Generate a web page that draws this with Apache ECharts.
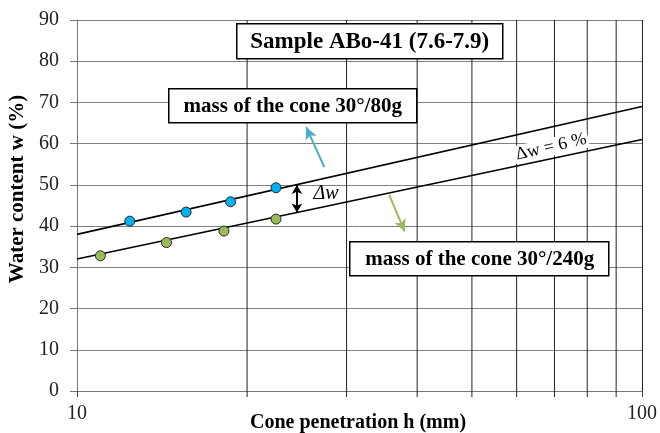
<!DOCTYPE html>
<html>
<head>
<meta charset="utf-8">
<script src="https://cdn.jsdelivr.net/npm/echarts@6/dist/echarts.min.js"></script>
<style>
  html, body { margin: 0; padding: 0; background: #fff; }
  #chart { width: 660px; height: 433px; }
</style>
</head>
<body>
<div id="chart"></div>
<script>
// measured points (cone penetration h in mm, water content w in %)
const h80 = [12.4, 15.6, 18.7, 22.5]
const w80 = [41.2, 43.4, 45.9, 49.3]
const h240 = [11.0, 14.4, 18.2, 22.5]
const w240 = [32.8, 36.0, 38.8, 41.7]

// fitted lines, end points at h = 10 and h = 100
const fitH = [10, 100]
const fit80 = [38, 69]
const fit240 = [32, 61]

// minor log grid lines between 10 and 100
const minorH = [20, 30, 40, 50, 60, 70, 80, 90]

// annotation arrows (data coords)
const deltaArrow = [[24.5, 50.0], [24.5, 43.3]]
const arrow80 = [[27.4, 54.3], [25.45, 64.0]]
const arrow240 = [[35.7, 47.6], [38.0, 38.7]]

const Y_MIN = 0
const Y_MAX = 90
const FONT = '"Liberation Serif", "Times New Roman", serif'

const zip = (a, b) => a.map((v, i) => [v, b[i]])

const chart = echarts.init(document.getElementById('chart'))

const option = {
  animation: false,
  backgroundColor: '#fff',
  grid: { left: 77, right: 17, top: 20, bottom: 42 },
  xAxis: {
    type: 'log',
    logBase: 10,
    min: 10,
    max: 100,
    axisLine: { lineStyle: { color: '#777', width: 1 } },
    axisTick: { show: true, length: 6, lineStyle: { color: '#444' } },
    axisLabel: { color: '#222', fontFamily: FONT, fontSize: 20, margin: 13 },
    splitLine: { show: true, lineStyle: { color: '#222', width: 1 } },
  },
  yAxis: {
    type: 'value',
    min: Y_MIN,
    max: Y_MAX,
    interval: 10,
    axisLine: { show: true, lineStyle: { color: '#777', width: 1 } },
    axisTick: { show: true, length: 7, lineStyle: { color: '#777' } },
    axisLabel: { color: '#222', fontFamily: FONT, fontSize: 20, margin: 18 },
    splitLine: { show: true, lineStyle: { color: '#808080', width: 1 } },
  },
  series: [
    {
      // minor vertical grid lines and ticks
      type: 'custom',
      clip: false,
      silent: true,
      z: 1,
      data: minorH.map(v => [v, Y_MIN]),
      renderItem: (params, api) => {
        const bottom = api.coord([api.value(0), Y_MIN])
        const top = api.coord([api.value(0), Y_MAX])
        return {
          type: 'line',
          shape: { x1: bottom[0], y1: top[1], x2: bottom[0], y2: bottom[1] + 6 },
          style: { stroke: '#222', lineWidth: 1 },
        }
      },
    },
    {
      name: 'fit 80g',
      type: 'line',
      data: zip(fitH, fit80),
      symbol: 'none',
      lineStyle: { color: '#000', width: 1.6 },
      z: 3,
      markLine: {
        silent: true,
        symbol: ['none', 'arrow'],
        symbolSize: [9, 12],
        label: { show: false },
        lineStyle: { color: '#4BACC6', width: 2, type: 'solid' },
        data: [[{ coord: arrow80[0] }, { coord: arrow80[1] }]],
      },
    },
    {
      name: 'fit 240g',
      type: 'line',
      data: zip(fitH, fit240),
      symbol: 'none',
      lineStyle: { color: '#000', width: 1.6 },
      z: 3,
      markLine: {
        silent: true,
        symbol: ['none', 'arrow'],
        symbolSize: [9, 12],
        label: { show: false },
        lineStyle: { color: '#9BBB59', width: 2, type: 'solid' },
        data: [[{ coord: arrow240[0] }, { coord: arrow240[1] }]],
      },
    },
    {
      name: 'cone 80g',
      type: 'scatter',
      data: zip(h80, w80),
      symbol: 'circle',
      symbolSize: 10,
      itemStyle: { color: '#00B0F0', borderColor: '#2a2a2a', borderWidth: 1, opacity: 1 },
      z: 5,
      markLine: {
        silent: true,
        symbol: ['arrow', 'arrow'],
        symbolSize: [8, 9],
        label: { show: false },
        lineStyle: { color: '#000', width: 2, type: 'solid' },
        data: [[{ coord: deltaArrow[0] }, { coord: deltaArrow[1] }]],
      },
    },
    {
      name: 'cone 240g',
      type: 'scatter',
      data: zip(h240, w240),
      symbol: 'circle',
      symbolSize: 10,
      itemStyle: { color: '#9BBB59', borderColor: '#2a2a2a', borderWidth: 1, opacity: 1 },
      z: 5,
    },
  ],
  graphic: [
    {
      type: 'group',
      left: 236, top: 23,
      z: 100,
      children: [
        { type: 'rect', z: 100, shape: { x: 0, y: 0, width: 266, height: 35 }, style: { fill: '#fff', stroke: '#000', lineWidth: 1.5 } },
        { type: 'text', z: 101, x: 133, y: 18, style: { text: 'Sample ABo-41 (7.6-7.9)', font: 'bold 23px ' + FONT, fill: '#000', align: 'center', verticalAlign: 'middle' } },
      ],
    },
    {
      type: 'group',
      left: 168, top: 88,
      z: 100,
      children: [
        { type: 'rect', z: 100, shape: { x: 0, y: 0, width: 248, height: 34 }, style: { fill: '#fff', stroke: '#000', lineWidth: 1.5 } },
        { type: 'text', z: 101, x: 124, y: 18, style: { text: 'mass of the cone 30°/80g', font: 'bold 21px ' + FONT, fill: '#000', align: 'center', verticalAlign: 'middle' } },
      ],
    },
    {
      type: 'group',
      left: 349, top: 241,
      z: 100,
      children: [
        { type: 'rect', z: 100, shape: { x: 0, y: 0, width: 259, height: 34 }, style: { fill: '#fff', stroke: '#000', lineWidth: 1.5 } },
        { type: 'text', z: 101, x: 130, y: 18, style: { text: 'mass of the cone 30°/240g', font: 'bold 21px ' + FONT, fill: '#000', align: 'center', verticalAlign: 'middle' } },
      ],
    },
    {
      type: 'text',
      x: 326, y: 194,
      style: { text: 'Δw', font: 'italic 20px ' + FONT, fill: '#000', align: 'center', verticalAlign: 'middle' },
      z: 100,
    },
    {
      type: 'text',
      x: 551, y: 147,
      rotation: 13 * Math.PI / 180,
      style: {
        text: 'Δw = 6 %', font: '18px ' + FONT, fill: '#000', align: 'center', verticalAlign: 'middle',
        backgroundColor: '#fff', padding: [0, 2],
      },
      z: 2,
    },
    {
      type: 'text',
      x: 18, y: 189,
      rotation: Math.PI / 2,
      style: { text: 'Water content w (%)', font: 'bold 21px ' + FONT, fill: '#000', align: 'center', verticalAlign: 'middle' },
      z: 100,
    },
    {
      type: 'text',
      x: 358, y: 423,
      style: { text: 'Cone penetration h (mm)', font: 'bold 20px ' + FONT, fill: '#000', align: 'center', verticalAlign: 'middle' },
      z: 100,
    },
  ],
}

chart.setOption(option)
</script>
</body>
</html>
